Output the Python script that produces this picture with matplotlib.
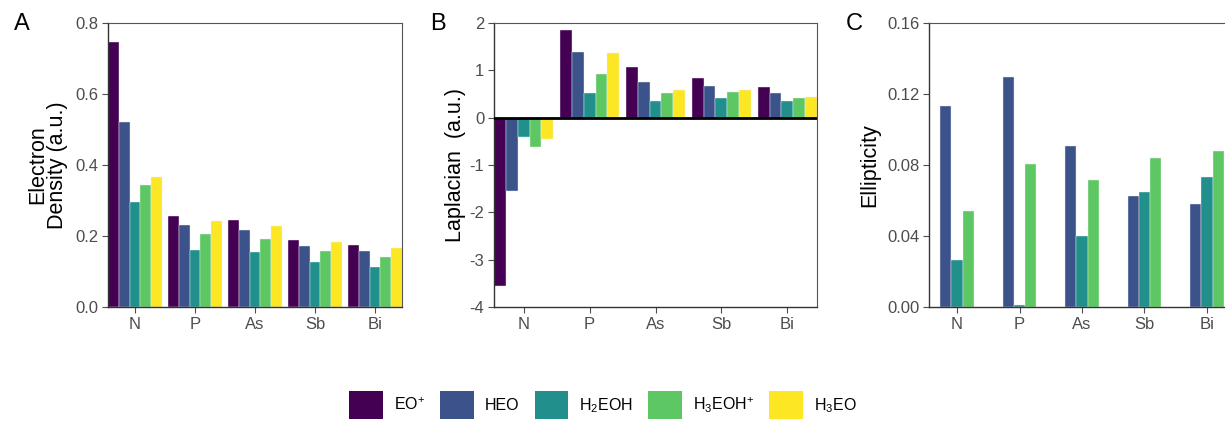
import matplotlib
matplotlib.use('Agg')
import matplotlib.pyplot as plt
from matplotlib.patches import Patch
import numpy as np

plt.rcParams['font.family'] = ['Liberation Sans', 'DejaVu Sans']
plt.rcParams['mathtext.default'] = 'regular'

elements = ['N', 'P', 'As', 'Sb', 'Bi']
species = [r'EO$^{+}$', 'HEO', r'H$_2$EOH', r'H$_3$EOH$^{+}$', r'H$_3$EO']
colors = ['#440154', '#3B528B', '#21908C', '#5DC863', '#FDE725']

# electron density (a.u.), one list per species
dens_eo = [0.746, 0.256, 0.244, 0.189, 0.174]
dens_heo = [0.520, 0.231, 0.217, 0.172, 0.157]
dens_h2eoh = [0.297, 0.161, 0.154, 0.126, 0.114]
dens_h3eoh = [0.345, 0.206, 0.192, 0.157, 0.142]
dens_h3eo = [0.365, 0.243, 0.227, 0.182, 0.166]

# laplacian (a.u.)
lap_eo = [-3.55, 1.86, 1.06, 0.83, 0.64]
lap_heo = [-1.54, 1.38, 0.76, 0.66, 0.52]
lap_h2eoh = [-0.40, 0.53, 0.36, 0.42, 0.36]
lap_h3eoh = [-0.63, 0.92, 0.52, 0.54, 0.42]
lap_h3eo = [-0.45, 1.37, 0.59, 0.59, 0.44]

# ellipticity (only three species)
ell_heo = [0.1132, 0.1294, 0.0908, 0.0625, 0.0581]
ell_h2eoh = [0.0264, 0.0013, 0.0400, 0.0649, 0.0734]
ell_h3eoh = [0.0542, 0.0804, 0.0717, 0.0838, 0.0881]

W, H = 1225, 423
fig = plt.figure(figsize=(W / 100, H / 100), dpi=100)


def make_ax(x0, y0, x1, y1):
    return fig.add_axes([x0 / W, 1 - y1 / H, (x1 - x0) / W, (y1 - y0) / H])


def style(ax, ylim, yticks, fmt, ylabel, letter, letter_x, label_x):
    ax.set_xlim(-0.45, 4.45)
    ax.set_ylim(*ylim)
    ax.set_yticks(yticks)
    ax.set_yticklabels([fmt.format(t) for t in yticks])
    ax.set_xticks(range(len(elements)))
    ax.set_xticklabels(elements)
    ax.tick_params(colors='#4d4d4d', labelsize=12, length=4, width=0.8, pad=3)
    for s in ['left', 'bottom']:
        ax.spines[s].set_color('#333333')
        ax.spines[s].set_linewidth(1.0)
    for s in ['top', 'right']:
        ax.spines[s].set_color('#555555')
        ax.spines[s].set_linewidth(0.8)
    ax.set_ylabel(ylabel, fontsize=15.5, color='black', linespacing=0.95)
    pos = ax.get_position()
    ax.yaxis.set_label_coords((label_x / W - pos.x0) / pos.width, 0.5)
    fig.text(letter_x / W, 1 - 24 / H, letter, fontsize=17, va='center', ha='left')


def bars(ax, series, cols):
    n = len(series)
    w = 0.18
    x = np.arange(len(elements))
    for i, (vals, c) in enumerate(zip(series, cols)):
        ax.bar(x + (i - (n - 1) / 2) * w, vals, width=w, color=c,
               edgecolor='#f0f0f0', linewidth=0.3)


axA = make_ax(108, 23, 402, 307)
bars(axA, [dens_eo, dens_heo, dens_h2eoh, dens_h3eoh, dens_h3eo], colors)
style(axA, (0, 0.8), [0, 0.2, 0.4, 0.6, 0.8], '{:.1f}',
      'Electron\nDensity (a.u.)', 'A', 14, 68)

axB = make_ax(494, 23, 817, 307)
bars(axB, [lap_eo, lap_heo, lap_h2eoh, lap_h3eoh, lap_h3eo], colors)
axB.axhline(0, color='black', linewidth=2, zorder=3)
style(axB, (-4, 2), [-4, -3, -2, -1, 0, 1, 2], '{:g}',
      'Laplacian  (a.u.)', 'B', 430, 466)

axC = make_ax(929, 23, 1235, 307)
bars(axC, [ell_heo, ell_h2eoh, ell_h3eoh], colors[1:4])
style(axC, (0, 0.16), [0, 0.04, 0.08, 0.12, 0.16], '{:.2f}',
      'Ellipticity', 'C', 846, 880)

handles = [Patch(facecolor=c, edgecolor='none') for c in colors]
fig.legend(handles, species, loc='center', bbox_to_anchor=(603 / W, 18 / H),
           ncol=5, frameon=False, fontsize=11.5, handlelength=2.1,
           handleheight=2.3, handletextpad=0.7, columnspacing=0.95,
           borderaxespad=0, borderpad=0)

fig.savefig('out.png', dpi=100)
